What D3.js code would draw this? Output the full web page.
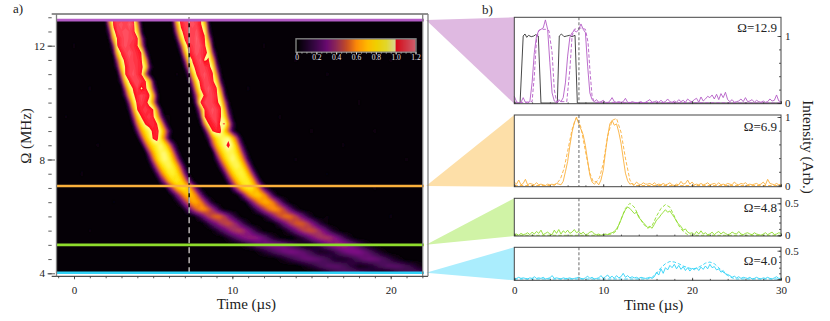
<!DOCTYPE html>
<html>
<head>
<meta charset="utf-8">
<script src="https://d3js.org/d3.v7.min.js"></script>
<style>
	html, body { margin: 0; padding: 0; background: #fff; }
	text { font-family: "Liberation Serif", serif; fill: #222; }
</style>
</head>
<body>
<svg id="chart" width="830" height="321"></svg>
<script>
// heat map. one row per omegaRows entry, 0.25 us per value
const omegaRows = [13,12.75,12.5,12.25,12,11.75,11.5,11.25,11,10.75,10.5,10.25,10,9.75,9.5,9.25,9,8.75,8.5,8.25,8,7.75,7.5,7.25,7,6.75,6.5,6.25,6,5.75,5.5,5.25,5,4.75,4.5,4.25,4];
const bandOneStart = [2,2,2.25,2.25,2.5,2.5,2.75,2.75,3,3,3.25,3.25,3.5,3.5,3.75,3.75,4,4.25,4.5,4.75,4.75,5,5.25,5.5,6,6.25,6.5,7,7.75,8.25,8.75,9.5,10.5,11.5,12.75,14.25,15.5];
const bandOneValues = [
	[.05,.75,1.08,1.12,1.1,1.15,1.1,1.06,.35,.02],
	[.02,.55,1.04,1.12,1.14,1.1,1.16,1.1,.6,.05],
	[.25,.95,1.1,1.12,1.15,1.12,1.08,.8,.1],
	[.08,.7,1.05,1.1,1.14,1.12,1.1,1.04,.4,.04],
	[.3,1.02,1.1,1.14,1.1,1.08,1.02,.55,.06],
	[.12,.8,1.04,1.1,1.15,1.1,1.06,1.01,.3,.02],
	[.45,.92,1.06,1.12,1.1,1.08,1.03,.7,.08],
	[.2,.8,1.02,1.1,1.12,1.08,1.05,.9,.25,.02],
	[.5,1.02,1.1,1.14,1.08,1.02,.5,.06],
	[.2,.8,1.02,1.1,1.12,1.08,1.03,.75,.15],
	[.45,.9,1.02,1.1,.98,1.04,.9,.35,.04],
	[.2,.7,.98,1.06,1.12,1.08,1.02,.7,.12],
	[.35,.85,1.05,1.1,1.06,.95,.6,.1],
	[.12,.6,1.01,1.06,1.1,1.06,1.01,.55,.08],
	[.35,.78,1.01,1.06,1.1,1.03,.75,.3,.03],
	[.1,.55,.85,1.01,1.05,1.08,1,.7,.25,.03],
	[.25,.65,.85,.95,1.03,1.06,.9,.6,.2,.02],
	[.35,.7,.88,1.02,1.05,.82,.5,.1],
	[.4,.7,.85,.93,.97,.85,.6,.25,.04],
	[.4,.7,.88,.95,.96,.85,.55,.18,.02],
	[.12,.5,.78,.93,.97,.93,.75,.45,.12],
	[.2,.52,.78,.9,.95,.9,.72,.42,.1],
	[.2,.52,.75,.88,.92,.85,.65,.3,.05],
	[.2,.45,.7,.83,.88,.82,.6,.3,.06],
	[.25,.5,.72,.83,.85,.75,.5,.2,.04],
	[.1,.3,.5,.67,.76,.72,.55,.3,.1,.02],
	[.05,.2,.4,.55,.68,.68,.6,.42,.22,.07,.02],
	[.1,.25,.42,.55,.63,.63,.55,.4,.25,.1,.02],
	[.1,.2,.33,.45,.53,.57,.55,.45,.32,.2,.1,.03],
	[.05,.15,.25,.33,.42,.47,.5,.45,.36,.25,.15,.07,.02],
	[.04,.1,.18,.25,.33,.4,.44,.45,.4,.32,.23,.14,.07,.02],
	[.04,.1,.16,.22,.28,.33,.36,.37,.36,.32,.27,.2,.13,.07,.03,.01],
	[.03,.07,.12,.17,.22,.26,.29,.31,.32,.32,.31,.28,.24,.2,.15,.1,.06,.03,.01],
	[.03,.06,.1,.14,.18,.22,.25,.28,.3,.31,.3,.28,.25,.21,.17,.12,.08,.05,.02],
	[.02,.05,.08,.12,.16,.2,.23,.26,.28,.28,.27,.25,.22,.18,.14,.1,.06,.03,.01],
	[.02,.05,.08,.11,.15,.19,.22,.24,.25,.25,.24,.21,.18,.14,.1,.06,.03,.01],
	[.02,.05,.08,.12,.15,.18,.2,.22,.23,.23,.22,.2,.17,.14,.1,.07,.04,.02]
];
const bandTwoStart = [6.25,6.25,6.5,6.5,6.75,6.75,7,7,7.25,7.25,7.5,7.5,7.75,7.75,8,8,8.25,8.5,8.75,9,9,9.25,9.5,9.75,10,10.5,11,11.25,12,12.75,13.25,14,15,15.75,16.75,18.25,19.75];
const bandTwoValues = [
	[.2,.9,1.08,1.14,1.1,1.12,1.1,1.04,.5,.03],
	[.06,.65,1.04,1.1,1.12,1.15,1.1,1.03,.8,.1],
	[.45,.95,1.08,1.12,1.1,1.14,1.05,.97,.2],
	[.15,.75,1.03,1.12,1.1,1.16,1.08,1.02,.5,.04],
	[.35,.9,1.06,1.1,1.15,1.12,1.04,.8,.1],
	[.1,.65,1.02,1.08,1.15,1.1,1.06,.96,.35,.03],
	[.3,.85,1.03,1.1,1.14,.98,1.02,.7,.1],
	[.1,.55,.96,1.06,1.12,1.1,1.06,.92,.3,.02],
	[.2,.75,1.02,1.1,1.14,1.08,1.03,.6,.06],
	[.06,.45,.9,1.05,1.12,1.1,1.05,.85,.2,.02],
	[.2,.7,1.01,1.1,1.14,1.08,1.02,.55,.06],
	[.06,.45,.88,1.04,1.12,1.1,1.05,.8,.2],
	[.3,1.02,1.1,1.12,1.1,1.04,.95,.5,.07],
	[.08,.5,1.02,1.1,1.14,1.1,1.04,.72,.2,.02],
	[.25,1,1.05,1.12,1.1,1.02,.85,.4,.05],
	[.06,.55,1.01,1.05,1.1,.98,1.02,.65,.2,.02],
	[.12,.55,1.01,1.05,1.03,.8,.5,.15,.02],
	[.2,.6,.85,.93,.97,.98,.8,.48,.12],
	[.4,.7,.88,.97,1.03,.95,.72,.35,.06],
	[.45,.72,.88,.95,.95,.85,.6,.25,.04],
	[.15,.5,.75,.9,.97,.93,.78,.5,.15,.02],
	[.2,.5,.75,.9,.95,.92,.75,.45,.12],
	[.18,.5,.75,.88,.93,.9,.72,.42,.12],
	[.2,.48,.72,.86,.9,.88,.72,.42,.12],
	[.18,.42,.66,.82,.88,.85,.72,.48,.2,.05],
	[.15,.36,.58,.72,.78,.76,.65,.45,.22,.07],
	[.15,.33,.5,.63,.7,.7,.62,.47,.3,.15,.05],
	[.06,.17,.3,.43,.55,.62,.63,.58,.47,.33,.2,.09,.03],
	[.08,.17,.28,.4,.5,.56,.58,.55,.47,.36,.25,.15,.07,.02],
	[.08,.17,.27,.37,.46,.52,.54,.52,.45,.35,.25,.15,.08,.03],
	[.05,.12,.2,.29,.38,.45,.49,.5,.47,.4,.32,.23,.14,.07,.03],
	[.04,.09,.15,.22,.3,.36,.41,.43,.43,.4,.34,.27,.19,.12,.06,.02],
	[.05,.1,.16,.22,.28,.33,.36,.38,.37,.35,.3,.25,.19,.13,.08,.04,.02],
	[.03,.07,.12,.17,.22,.27,.3,.32,.33,.32,.29,.25,.2,.15,.1,.06,.03],
	[.03,.06,.1,.14,.18,.22,.26,.28,.29,.28,.26,.22,.18,.14,.09,.06,.03],
	[.03,.07,.1,.14,.18,.21,.24,.25,.25,.24,.22,.19,.16,.12,.08,.05],
	[.03,.06,.1,.13,.16,.18,.2,.21,.21,.2]
];
// faint blotches in the dark background: t, omega, value
const noiseSpots = [[0,12,.05],[1,10.5,.05],[-.5,9.5,.04],[1.5,8.5,.05],[.5,7.5,.05],[2.5,6.5,.04],[12,12,.05],[14,11.5,.06],[11,10.5,.05],[16,11,.05],[18,10,.05],[20,11.5,.05],[13,9.5,.05],[15,9,.06],[17,8.5,.05],[19,9,.05],[21,8,.05],[14,8,.05],[16,7.5,.04],[19,7,.05],[6.5,11,.04],[6,9.5,.04],[16,6,.04],[20,6,.05],[1,5.5,.04],[4,5,.04]];

const heatStops = [0,.1,.2,.3,.4,.5,.6,.7,.8,.9,.999];
const heatColors = ["#000000","#240530","#4d0a5c","#7c0c84","#a33060","#d25228","#fb8a08","#ffb400","#ffdc00","#fff230","#ffffb4"];
const redStops = [1,1.2];
const redColors = ["#ff0c1c","#ff7888"];
const barTicks = [0,.2,.4,.6,.8,1,1.2];

const omegaTicks = [4,8,12];
const heatTimeTicks = [0,10,20];
const cutOmega = [12.9,7.07,5,4.02];
const markerTime = 7.27;

const panelLabels = ["Ω=12.9","Ω=6.9","Ω=4.8","Ω=4.0"];
const panelColors = ["#b45cc6","#fbb03c","#8fdc2c","#2fd2f7"];
const wedgeColors = ["#dfb9e1","#fddfa8","#d0f3a6","#aaedfd"];
const panelTicks = [[0,1],[0,1],[0,.5],[0,.5]];
const timeTicks = [0,10,20,30];

// solid traces, one value per 0.25 us from t=0
const traceStep = .25;
const purpleTrace = [.1,.02,0,.01,.08,.01,0,.02,.3,.75,1,1.08,1.1,1.12,1.24,1.1,.6,.15,.03,0,.05,.02,.08,.3,.7,.98,1.05,1.08,1.06,1.1,1.18,1.1,1.05,.55,.15,.05,.02,.05,.01,.02,.04,.01,0,.03,.08,.02,.01,.02,.01,.02,.07,.01,0,.02,.01,0,.01,.02,0,.01,.03,.05,.01,.02,.03,.01,.04,.01,.02,.06,.02,.01,.03,.01,.05,.02,.04,.01,.06,.03,.02,.05,.07,.01,.09,.03,.06,.1,.08,.12,.06,.13,.05,.14,.08,.16,.05,.02,.05,.01,.02,.03,.06,.02,.08,.02,.03,.05,.01,.04,.02,.01,.03,.01,.02,.06,.03,.04,.12,.03,.02];
const orangeTrace = [.05,.02,.08,.01,.03,.09,.01,.03,.02,.01,.04,.01,.02,.01,0,.02,.01,.02,0,.03,.02,.01,.06,.2,.35,.58,.78,.92,.99,.9,.82,.74,.58,.36,.15,.05,.02,.05,.01,.08,.22,.48,.72,.9,.95,.88,.9,.78,.62,.4,.18,.07,.02,.03,.01,.05,.02,.01,.04,.02,.02,.03,.01,.04,.01,.02,.01,.03,.01,.02,.04,.01,0,.02,.01,.06,.02,.03,.08,.02,.05,.01,.02,.01,.03,.01,.02,.04,.01,.02,.03,.01,.04,.01,.02,.01,.03,.02,.01,.05,.02,.01,.03,.02,.04,.01,.02,.01,.02,.03,.01,.02,.05,.01,.09,.03,.02,.01,.03,.01,.02];
const greenTrace = [.01,.02,0,.03,.01,.02,.04,.01,.05,.02,.06,.03,.08,.01,.03,.05,.02,.01,.08,.03,.09,.02,.07,.04,.08,.03,.05,.09,.04,.06,.02,.05,.01,.02,.05,.06,.02,.01,.02,0,.01,.02,.01,.03,.04,.06,.1,.16,.24,.33,.4,.44,.42,.38,.34,.36,.28,.24,.2,.16,.12,.14,.11,.17,.24,.27,.32,.36,.4,.36,.38,.33,.28,.22,.17,.14,.08,.1,.05,.03,.04,.01,.06,.02,.07,.02,.04,.01,.02,.05,.01,.04,.06,.02,.05,.03,.01,.02,.05,.03,.02,.06,.02,.01,.03,.04,.02,.01,.04,.02,.01,0,.02,.04,.01,.03,.05,.01,.02,.04,.03];
const cyanTrace = [0,.01,.03,.01,.02,.01,0,.02,.01,.04,.01,.02,.01,.03,0,.01,.02,.06,.01,.02,.01,0,.02,.01,.01,.02,0,.01,.02,.03,.01,0,.02,.05,.01,.03,0,.01,.02,.06,.01,.04,.07,.02,.05,.01,.06,.02,.04,.1,.03,.06,.02,.04,.02,.03,.01,.03,.02,.01,.02,.03,.01,.04,.12,.07,.18,.1,.2,.16,.24,.2,.26,.18,.24,.17,.22,.15,.2,.14,.19,.16,.2,.15,.21,.17,.23,.18,.26,.2,.22,.16,.18,.12,.15,.09,.08,.06,.03,.05,.02,.04,.01,.03,.02,.01,.03,0,.01,.03,.01,0,.02,.01,.03,.01,0,.02,.04,.01,.01];

// dashed fits and the black input pulse: time and value lists
const purpleFitT = [0,2,2.25,2.5,2.75,3,3.5,3.9,4.25,4.5,4.75,5.9,6.25,6.5,6.75,7.5,8,8.3,8.5,8.75,9,30];
const purpleFitV = [0,.02,.4,.95,1.08,1.1,1.1,1.08,.75,.2,.02,.02,.5,1,1.1,1.12,1.1,.9,.5,.1,.01,0];
const orangeFitT = [0,4.2,4.8,5.2,5.6,6,6.5,7,7.5,8,8.5,8.9,9.3,9.6,10,10.5,11,11.5,12,12.5,13,13.4,30];
const orangeFitV = [0,0,.03,.1,.25,.5,.82,1,.85,.5,.18,.05,.06,.12,.32,.72,.95,.98,.78,.4,.08,0,0];
const greenFitT = [0,9.5,11,11.5,12,12.5,13,13.5,14,14.5,15,15.5,16,16.5,17,17.5,18,18.5,19,19.5,20,30];
const greenFitV = [0,0,.02,.07,.25,.42,.5,.44,.3,.18,.11,.15,.3,.42,.48,.44,.3,.15,.06,.01,0,0];
const cyanFitT = [0,15,15.5,16,16.5,17,17.5,18,18.5,19,19.5,20,20.5,21,21.5,22,22.5,23,23.5,24,24.5,25,30];
const cyanFitV = [0,0,.03,.1,.2,.27,.31,.3,.27,.23,.2,.18,.19,.23,.28,.3,.27,.2,.12,.06,.02,0,0];
const pulseT = [0,.65,1,1.2,1.4,1.6,1.9,2.2,2.4,2.7,3,4.84,5.06,5.3,5.6,5.9,6.2,6.5,6.83,7.09,12,30];
const pulseV = [0,0,1,1.03,.98,1.01,.99,1,1.02,1,0,0,1,1.03,.99,1,1.01,.99,1.01,0,0,0];

const panelTraces = [purpleTrace,orangeTrace,greenTrace,cyanTrace];
const panelFitsT = [purpleFitT,orangeFitT,greenFitT,cyanFitT];
const panelFitsV = [purpleFitV,orangeFitV,greenFitV,cyanFitV];

var svg = d3.select("#chart");
var defs = svg.append("defs");
defs.append("filter").attr("id","softGlow").append("feGaussianBlur").attr("stdDeviation",.95);
defs.append("filter").attr("id","softCore").append("feGaussianBlur").attr("stdDeviation",.35);
defs.append("clipPath").attr("id","imgClip").append("rect").attr("x",57).attr("y",19).attr("width",365.5).attr("height",254);

// left panel scales
var x = d3.scaleLinear().domain([0,20]).range([74,390.7]);
var y = d3.scaleLinear().domain([4,12]).range([273.3,45.7]);
var frameLeft = 51.7, frameRight = 428, frameTop = 14, frameBottom = 276.3;
var imgLeft = 56.5, imgRight = 422.7;

// right panel scales
var px = d3.scaleLinear().domain([0,30]).range([514.3,781]);
var panelTop = [17.3,115,198.3,247.3];
var panelBottom = [103.7,186.7,236,280.3];
var labelBase = [32,131,212,264.5];
var panelY = [
	d3.scaleLinear().domain([0,1]).range([103,36]),
	d3.scaleLinear().domain([0,1]).range([185.5,117]),
	d3.scaleLinear().domain([0,.5]).range([235.3,203.3]),
	d3.scaleLinear().domain([0,.5]).range([279,250.7])
];

// wedges go under everything
cutOmega.forEach(function(o,i) {
	var tip = [frameRight-2, y(o)];
	svg.append("polygon")
		.attr("points",[tip,[px(0),panelTop[i]],[px(0),panelBottom[i]]].join(" "))
		.attr("fill",wedgeColors[i]);
});

// heat map
var nCols = 93, nRows = omegaRows.length, firstT = -1, stepT = .25;
var grid = new Array(nCols*nRows).fill(0);
function addBand(starts, values) {
	values.forEach(function(row,r) {
		var c0 = Math.round((starts[r]-firstT)/stepT);
		row.forEach(function(v,k) {
			if(c0+k < nCols) grid[r*nCols+c0+k] += v;
		});
	});
}
addBand(bandOneStart,bandOneValues);
addBand(bandTwoStart,bandTwoValues);
noiseSpots.forEach(function(s) {
	var c = Math.round((s[0]-firstT)/stepT), r = Math.round((13-s[1])/.25);
	grid[r*nCols+c] += s[2];
});

var heat = d3.scaleLinear().domain(heatStops).range(heatColors).clamp(true);
var red = d3.scaleLinear().domain(redStops).range(redColors).clamp(true);
function heatColor(v) { return v >= 1 ? red(v) : heat(v); }

var thresholds = d3.range(1,49).map(function(i) { return i*.025; });
var contours = d3.contours().size([nCols,nRows]).thresholds(thresholds)(grid);
var gridPath = d3.geoPath(d3.geoTransform({
	point: function(cx,cy) {
		this.stream.point(x(firstT+(cx-.5)*stepT), y(omegaRows[0]-(cy-.5)*.25));
	}
}));

var imgLayer = svg.append("g").attr("clip-path","url(#imgClip)");
imgLayer.append("rect").attr("x",57).attr("y",19).attr("width",366).attr("height",254).attr("fill","#050006");
imgLayer.append("g").attr("filter","url(#softGlow)")
	.selectAll("path").data(contours.filter(function(d) { return d.value < 1; })).enter().append("path")
	.attr("d",gridPath)
	.attr("fill",function(d) { return heatColor(d.value); });
imgLayer.append("g").attr("filter","url(#softCore)")
	.selectAll("path").data(contours.filter(function(d) { return d.value >= 1; })).enter().append("path")
	.attr("d",gridPath)
	.attr("fill",function(d) { return heatColor(d.value); });

// marker on the image
svg.append("line").attr("x1",x(markerTime)).attr("x2",x(markerTime)).attr("y1",y(13)).attr("y2",y(4))
	.attr("stroke","#000").attr("stroke-width",1.4);
svg.append("line").attr("x1",x(markerTime)).attr("x2",x(markerTime)).attr("y1",y(13)).attr("y2",y(4))
	.attr("stroke","#e8e0e0").attr("stroke-width",1.2).attr("stroke-dasharray","6,4");

// cut lines
cutOmega.forEach(function(o,i) {
	svg.append("line")
		.attr("x1",57).attr("x2",424).attr("y1",y(o)).attr("y2",y(o))
		.attr("stroke",panelColors[i]).attr("stroke-width",2.6);
});

// colour bar
var bar = d3.scaleLinear().domain([0,1.2]).range([296.5,415.5]);
var barColors = d3.range(0,1.2,.01);
svg.append("g").selectAll("rect").data(barColors).enter().append("rect")
	.attr("x",function(d) { return bar(d); })
	.attr("y",39).attr("height",13)
	.attr("width",bar(.011)-bar(0))
	.attr("fill",function(d) { return heatColor(d); });
svg.append("rect").attr("x",296).attr("y",38.8).attr("width",120).attr("height",13.4)
	.attr("fill","none").attr("stroke","#808080").attr("stroke-width",1.4);
var barAxis = svg.append("g").attr("transform","translate(0,52.5)")
	.call(d3.axisBottom(bar).tickValues(barTicks).tickSize(2).tickPadding(0.5)
		.tickFormat(function(d) { return d == 0 ? "0" : d3.format(".1f")(d); }));
barAxis.select(".domain").remove();
barAxis.selectAll("line").attr("stroke","#eee");
barAxis.selectAll("text").style("fill","#e8e0e8").style("font-size","7.5px")
	.style("font-family","'Liberation Serif', serif");
svg.append("g").attr("transform","translate(0,52.5)")
	.call(d3.axisBottom(bar).tickValues(d3.range(0,1.21,.05)).tickSize(1).tickFormat(""))
	.call(function(g) { g.select(".domain").remove(); g.selectAll("line").attr("stroke","#ccc"); });

// left panel frame: dark top and bottom rules, grey uprights
[frameTop,frameBottom].forEach(function(fy) {
	svg.append("line").attr("x1",frameLeft).attr("x2",frameRight).attr("y1",fy).attr("y2",fy)
		.attr("stroke","#222").attr("stroke-width",1);
});
[imgLeft,imgRight,frameRight].forEach(function(fx) {
	svg.append("line").attr("x1",fx).attr("x2",fx).attr("y1",frameTop).attr("y2",frameBottom)
		.attr("stroke","#808080").attr("stroke-width",1.3);
});

function styleAxis(g, size) {
	g.select(".domain").remove();
	g.selectAll("line").attr("stroke","#333").attr("stroke-width",.8);
	g.selectAll("text").style("font-size",size+"px").style("fill","#222")
		.style("font-family","'Liberation Serif', serif");
}

// ticks hang outside the frame, the labelled ones run through to the image
svg.append("g").attr("transform","translate("+(frameLeft+3.3)+",0)")
	.call(d3.axisLeft(y).tickValues(omegaTicks).tickSize(7.5).tickPadding(2.5).tickFormat(d3.format("d")))
	.call(styleAxis,11);
svg.append("g").attr("transform","translate("+frameLeft+",0)")
	.call(d3.axisLeft(y).tickValues(d3.range(4,13.01,.5)).tickSize(3.4).tickFormat(""))
	.call(styleAxis,11);
svg.append("g").attr("transform","translate(0,"+frameBottom+")")
	.call(d3.axisBottom(x).tickValues(heatTimeTicks).tickSize(3).tickPadding(7).tickFormat(d3.format("d")))
	.call(styleAxis,11);
svg.append("g").attr("transform","translate(0,"+frameBottom+")")
	.call(d3.axisBottom(x).tickValues(d3.range(-1,23,1)).tickSize(2).tickFormat(""))
	.call(styleAxis,11);

svg.append("text").attr("x",x(10)+14).attr("y",308.5).attr("text-anchor","middle")
	.style("font-size","15px").text("Time (µs)");
svg.append("text").attr("transform","translate(31,136) rotate(-90)").attr("text-anchor","middle")
	.style("font-size","15px").text("Ω (MHz)");
svg.append("text").attr("x",13).attr("y",13).style("font-size","13px").text("a)");
svg.append("text").attr("x",482).attr("y",14).style("font-size","13px").text("b)");
svg.append("text").attr("transform","translate(803,147) rotate(90)").attr("text-anchor","middle")
	.style("font-size","15px").text("Intensity (Arb.)");

// right panels
var tracePath = d3.line().x(function(d) { return px(d[0]); });
panelTraces.forEach(function(trace,i) {
	var py = panelY[i];
	var g = svg.append("g");
	tracePath.y(function(d) { return py(d[1]); });

	g.append("rect").attr("x",px(0)).attr("y",panelTop[i])
		.attr("width",px(30)-px(0)).attr("height",panelBottom[i]-panelTop[i])
		.attr("fill","#fff");

	if(i == 0) {
		g.append("path").attr("fill","none").attr("stroke","#333").attr("stroke-width",.9)
			.attr("d",tracePath(pulseT.map(function(t,k) { return [t,pulseV[k]]; })));
	}
	g.append("path").attr("fill","none").attr("stroke",panelColors[i])
		.attr("stroke-width",.9).attr("stroke-dasharray","3.5,2")
		.attr("d",tracePath(panelFitsT[i].map(function(t,k) { return [t,panelFitsV[i][k]]; })));
	g.append("path").attr("fill","none").attr("stroke",panelColors[i]).attr("stroke-width",.9)
		.attr("d",tracePath(trace.map(function(v,k) { return [k*traceStep,v]; })));

	g.append("line").attr("x1",px(markerTime)).attr("x2",px(markerTime))
		.attr("y1",panelTop[i]).attr("y2",panelBottom[i])
		.attr("stroke","#777").attr("stroke-width",1.1).attr("stroke-dasharray","3,2");

	g.append("rect").attr("x",px(0)).attr("y",panelTop[i])
		.attr("width",px(30)-px(0)).attr("height",panelBottom[i]-panelTop[i])
		.attr("fill","none").attr("stroke","#444").attr("stroke-width",1);

	// right hand ticks, fifths of the labelled range
	var top = panelTicks[i][1];
	svg.append("g").attr("transform","translate("+px(30)+",0)")
		.call(d3.axisRight(py).tickValues(panelTicks[i]).tickSize(-3.5).tickPadding(4)
			.tickFormat(function(d) { return d == 0 ? "0" : d; }))
		.call(styleAxis,11);
	svg.append("g").attr("transform","translate("+px(30)+",0)")
		.call(d3.axisRight(py).tickValues(d3.range(0,top*1.01,top/5)).tickSize(-2).tickFormat(""))
		.call(styleAxis,11);

	// bottom ticks
	svg.append("g").attr("transform","translate(0,"+panelBottom[i]+")")
		.call(d3.axisBottom(px).tickValues(timeTicks).tickSize(-2.5).tickFormat(i == 3 ? d3.format("d") : "").tickPadding(6))
		.call(styleAxis,11);
	svg.append("g").attr("transform","translate(0,"+panelBottom[i]+")")
		.call(d3.axisBottom(px).tickValues(d3.range(0,30.1,2)).tickSize(-1.4).tickFormat(""))
		.call(styleAxis,11);

	svg.append("text").attr("x",777).attr("y",labelBase[i]).attr("text-anchor","end")
		.style("font-size","13px").text(panelLabels[i]);
});

svg.append("text").attr("x",px(15)+6).attr("y",310).attr("text-anchor","middle")
	.style("font-size","15px").text("Time (µs)");
</script>
</body>
</html>
